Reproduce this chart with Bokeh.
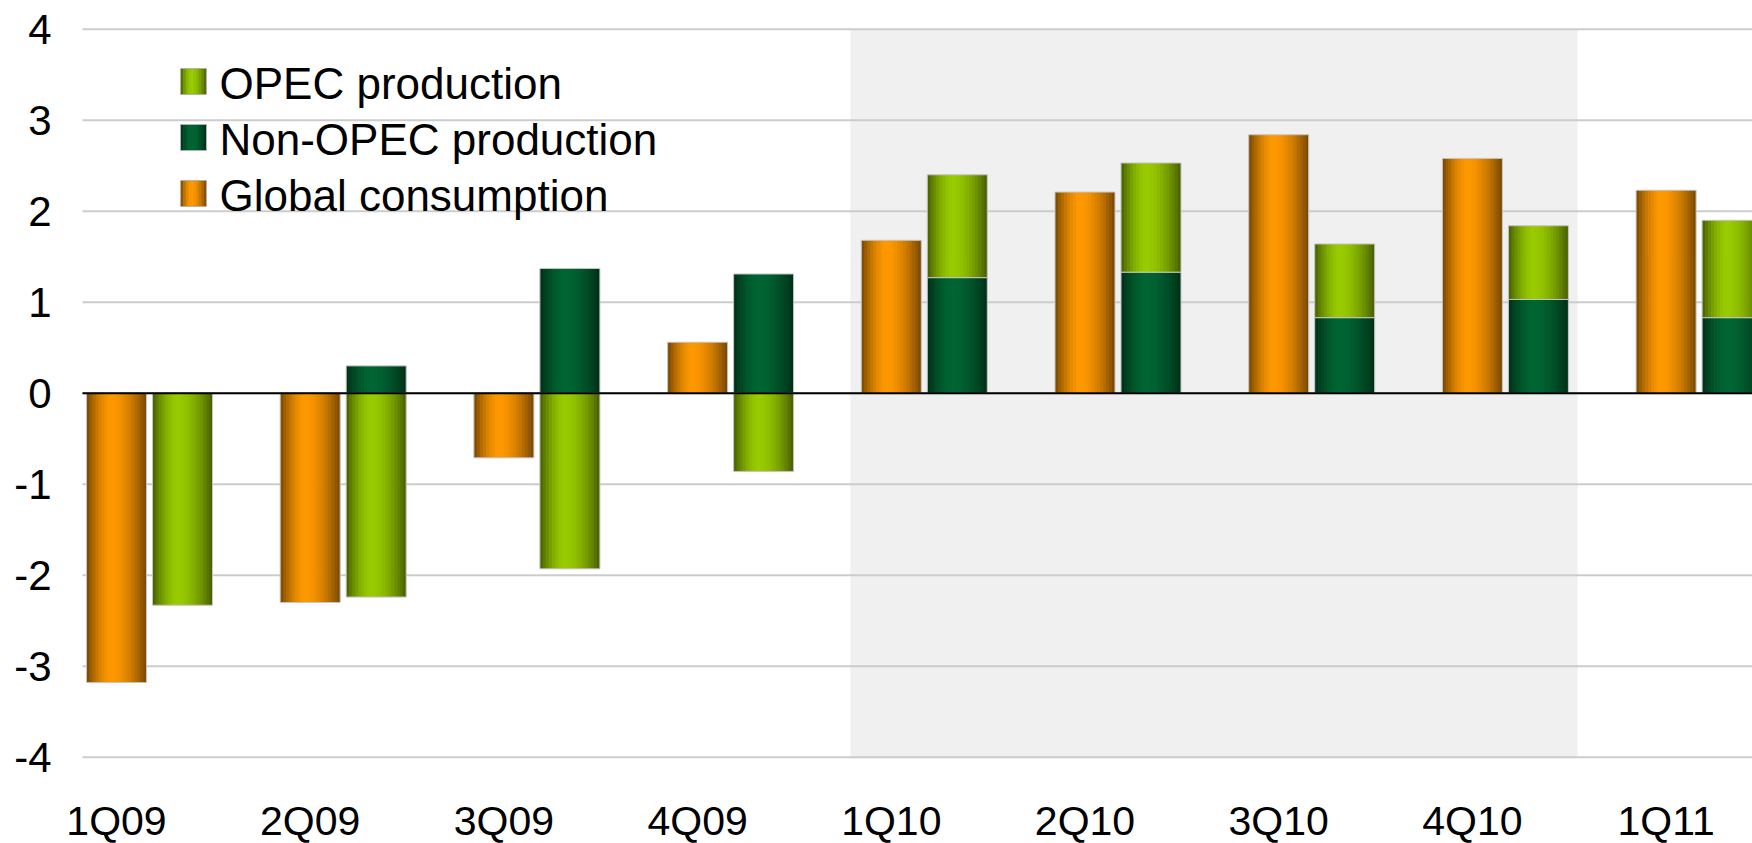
import numpy as np
from bokeh.plotting import figure
from bokeh.models import Range1d, FixedTicker, BoxAnnotation, ColumnDataSource, LabelSet
from bokeh.core.properties import value
from bokeh.embed import file_html
from bokeh.resources import INLINE

# ---------------- data ----------------
quarters = ["1Q09", "2Q09", "3Q09", "4Q09", "1Q10", "2Q10", "3Q10", "4Q10", "1Q11"]
global_consumption = [-3.18, -2.30, -0.71, 0.56, 1.68, 2.21, 2.84, 2.58, 2.23]
non_opec_production = [0.00, 0.30, 1.37, 1.31, 1.27, 1.33, 0.83, 1.03, 0.83]
opec_production = [-2.33, -2.24, -1.93, -0.86, 1.13, 1.20, 0.81, 0.81, 1.07]
y_ticks = [-4, -3, -2, -1, 0, 1, 2, 3, 4]
y_tick_labels = ["-4", "-3", "-2", "-1", "0", "1", "2", "3", "4"]
shaded_from, shaded_to = "1Q10", "4Q10"
legend_labels = ["OPEC production", "Non-OPEC production", "Global consumption"]

# ---------------- styles / layout (page pixels) ----------------
ORANGE, LIGHT_GREEN, DARK_GREEN = "#FF9900", "#99CC00", "#006633"
FONT = "Liberation Sans"
W, H = 1752, 843
BL, BT = 60, 20
GRID_LEFT = 82        # page x where grid lines start
STEP = 193.7          # px per category
UNIT = 91.0           # px per y unit
CAT0 = 116.0          # page x of first category (first bar centre)
ZERO = 392.7          # page y of value 0


def fx(px):
    return (px - CAT0) / STEP


def fy(py):
    return (ZERO - py) / UNIT


x_start, x_end = fx(BL), fx(W)
y_end, y_start = fy(BT), fy(H)

BAR_W = 60 / STEP
GREEN_OFF = 66 / STEP


def shade(hex_color, f):
    r = int(hex_color[1:3], 16)
    g = int(hex_color[3:5], 16)
    b = int(hex_color[5:7], 16)
    return "#%02x%02x%02x" % (int(r * f), int(g * f), int(b * f))


def strips(lefts, rights, bottoms, tops, color, n=20, c=0.42, emin=0.46, pw=1.7):
    L, R, B, T, C = [], [], [], [], []
    for l, r, b, t in zip(lefts, rights, bottoms, tops):
        if abs(t - b) < 1e-9:
            continue
        w = (r - l) / n
        for k in range(n):
            tt = (k + 0.5) / n
            d = abs(tt - c) / (c if tt < c else 1 - c)
            f = 1 - (1 - emin) * d ** pw
            L.append(l + k * w)
            R.append(l + (k + 1) * w + (w * 0.25 if k < n - 1 else 0))
            B.append(b)
            T.append(t)
            C.append(shade(color, f))
    return dict(left=L, right=R, bottom=B, top=T, color=C)


p = figure(width=W, height=H, output_backend="svg", toolbar_location=None,
           x_range=Range1d(x_start, x_end), y_range=Range1d(y_start, y_end),
           min_border_left=BL, min_border_right=0, min_border_top=BT, min_border_bottom=0)
p.outline_line_color = None
p.background_fill_color = "white"
p.border_fill_color = "white"

# shaded forecast period
idx = {q: i for i, q in enumerate(quarters)}
p.add_layout(BoxAnnotation(left=idx[shaded_from] - 0.211, right=idx[shaded_to] + 0.543,
                           bottom=-4, top=4, fill_color="#f0f0f0", fill_alpha=1.0,
                           line_color=None, level="image"))

# y axis (labels only)
p.xaxis.visible = False
p.xgrid.visible = False
p.ygrid.visible = False
ya = p.yaxis[0]
ya.ticker = FixedTicker(ticks=y_ticks)
ya.major_label_overrides = {t: l for t, l in zip(y_ticks, y_tick_labels)}
ya.axis_line_color = None
ya.major_tick_line_color = None
ya.minor_tick_line_color = None
ya.major_label_standoff = 3
ya.major_label_text_font = FONT
ya.major_label_text_font_size = "42px"
ya.major_label_text_color = "black"

# horizontal grid lines at the y ticks, starting where the plot area starts
p.segment(x0=[fx(GRID_LEFT)] * len(y_ticks), x1=[x_end] * len(y_ticks),
          y0=y_ticks, y1=y_ticks, line_color="#cccccc", line_width=2, level="underlay")

# ---------------- bars ----------------
xs = np.arange(len(quarters), dtype=float)
gc = np.array(global_consumption)
no = np.array(non_opec_production)
op = np.array(opec_production)

# global consumption
o_l, o_r = xs - BAR_W / 2, xs + BAR_W / 2
o_b, o_t = np.minimum(gc, 0), np.maximum(gc, 0)

# production stacked: non-OPEC first, OPEC on top (positive up, negative down)
pos = np.zeros_like(xs)
neg = np.zeros_like(xs)
no_b = np.where(no >= 0, pos, neg + no)
no_t = np.where(no >= 0, pos + no, neg)
pos = pos + np.maximum(no, 0)
neg = neg + np.minimum(no, 0)
op_b = np.where(op >= 0, pos, neg + op)
op_t = np.where(op >= 0, pos + op, neg)
g_l, g_r = xs + GREEN_OFF - BAR_W / 2, xs + GREEN_OFF + BAR_W / 2

for (l, r, b, t, col) in [(o_l, o_r, o_b, o_t, ORANGE),
                          (g_l, g_r, no_b, no_t, DARK_GREEN),
                          (g_l, g_r, op_b, op_t, LIGHT_GREEN)]:
    src = ColumnDataSource(strips(l, r, b, t, col))
    p.quad(left="left", right="right", bottom="bottom", top="top", fill_color="color",
           line_color=None, source=src)
    keep = np.abs(t - b) > 1e-9
    p.quad(left=l[keep], right=r[keep], bottom=b[keep], top=t[keep], fill_color=None,
           line_color="#c4c4c4", line_width=1)

# zero line (on top of the bars)
p.segment(x0=[fx(GRID_LEFT)], x1=[x_end], y0=[0], y1=[0], line_color="black", line_width=2)

# x category labels (centred on the first bar of each pair)
lab_src = ColumnDataSource(dict(x=xs, y=[fy(820)] * len(quarters), text=quarters))
p.add_layout(LabelSet(x="x", y="y", text="text", source=lab_src, text_font=value(FONT),
                      text_font_size=value("41px"), text_align="center",
                      text_baseline="middle", text_color="black"))

# ---------------- legend ----------------
sw = 26
leg_colors = [LIGHT_GREEN, DARK_GREEN, ORANGE]
for k, (lab, col) in enumerate(zip(legend_labels, leg_colors)):
    cy = 81 + 56 * k
    s = strips([fx(180)], [fx(180 + sw)], [fy(cy + sw / 2)], [fy(cy - sw / 2)], col, n=10)
    p.quad(left="left", right="right", bottom="bottom", top="top", fill_color="color",
           line_color=None, source=ColumnDataSource(s))
    p.quad(left=[fx(180)], right=[fx(180 + sw)], bottom=[fy(cy + sw / 2)], top=[fy(cy - sw / 2)],
           fill_color=None, line_color="#b0b0b0", line_width=1)
    p.text(x=[fx(219)], y=[fy(cy + 2)], text=[lab], text_font=value(FONT),
           text_font_size=value("44px"), text_align="left", text_baseline="middle",
           text_color="black")

open("out.html", "w").write(file_html(p, INLINE))
